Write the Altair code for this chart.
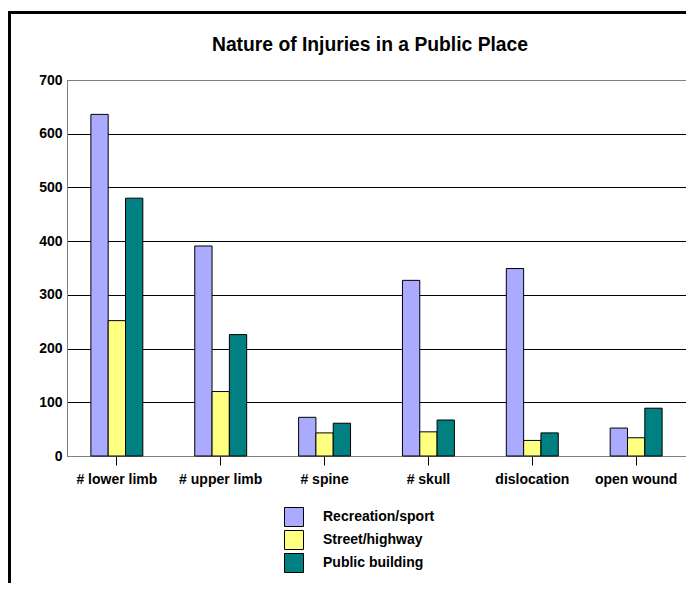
import altair as alt
import pandas as pd

categories = ["# lower limb", "# upper limb", "# spine", "# skull", "dislocation", "open wound"]
series = ["Recreation/sport", "Street/highway", "Public building"]
recreation = [636, 391, 72, 327, 349, 52]
street = [252, 120, 43, 45, 29, 34]
public_building = [480, 226, 61, 67, 43, 89]
colors = ["#AAAAFF", "#FFFF80", "#008080"]
y_ticks = [0, 100, 200, 300, 400, 500, 600, 700]
title_text = "Nature of Injuries in a Public Place"

rows = []
for name, vals in zip(series, [recreation, street, public_building]):
    for c, v in zip(categories, vals):
        rows.append({"category": c, "series": name, "value": v})
df = pd.DataFrame(rows)

FONT = "Liberation Sans"
W, H = 619, 376

bars = alt.Chart(df).mark_bar(stroke="black", strokeWidth=1).encode(
    x=alt.X("category:N", sort=categories,
            scale=alt.Scale(paddingInner=0.5, paddingOuter=0.23),
            axis=alt.Axis(title=None, labelAngle=0, domainColor="#808080",
                          tickColor="black", tickSize=9, labelPadding=7,
                          labelFont=FONT, labelFontSize=14, labelFontWeight="bold",
                          labelColor="black")),
    xOffset=alt.XOffset("series:N", sort=series,
                        scale=alt.Scale(paddingInner=0, paddingOuter=0)),
    y=alt.Y("value:Q", scale=alt.Scale(domain=[0, 700], nice=False),
            axis=alt.Axis(title=None, values=y_ticks, grid=True, gridColor="black",
                          gridOpacity=1, domainColor="#808080", tickSize=0,
                          labelPadding=5, labelFont=FONT, labelFontSize=14,
                          labelFontWeight="bold", labelColor="black")),
    color=alt.Color("series:N", sort=series,
                    scale=alt.Scale(domain=series, range=colors),
                    legend=alt.Legend(title=None, orient="none", legendX=217, legendY=427,
                                      symbolType="square", symbolSize=361,
                                      symbolStrokeColor="black", symbolStrokeWidth=1,
                                      symbolOpacity=1,
                                      labelFont=FONT, labelFontSize=14, labelFontWeight="bold",
                                      labelColor="black", labelOffset=19, rowPadding=-1)),
)

one = alt.Data(values=[{"t": title_text}])

top_line = alt.Chart(one).mark_rule(color="#808080", strokeWidth=1).encode(
    x=alt.value(0), x2=alt.value(W), y=alt.value(0.5)
)

frame_top = alt.Chart(one).mark_rule(color="black", strokeWidth=3).encode(
    x=alt.value(-59), x2=alt.value(700), y=alt.value(-67.5)
)
frame_left = alt.Chart(one).mark_rule(color="black", strokeWidth=3).encode(
    x=alt.value(-57.5), y=alt.value(-69), y2=alt.value(700)
)

title = alt.Chart(one).mark_text(
    font=FONT, fontSize=19.3, fontWeight="bold", color="black",
    align="center", baseline="alphabetic"
).encode(text="t:N", x=alt.value(303), y=alt.value(-29))

chart = alt.layer(bars, top_line, frame_top, frame_left, title).properties(
    width=W, height=H,
    autosize=alt.AutoSizeParams(type="none"),
    padding={"left": 59, "top": 72, "right": 0, "bottom": 127},
).configure_view(strokeWidth=0)

chart.save("out.html", embed_options={"renderer": "svg", "actions": False})
